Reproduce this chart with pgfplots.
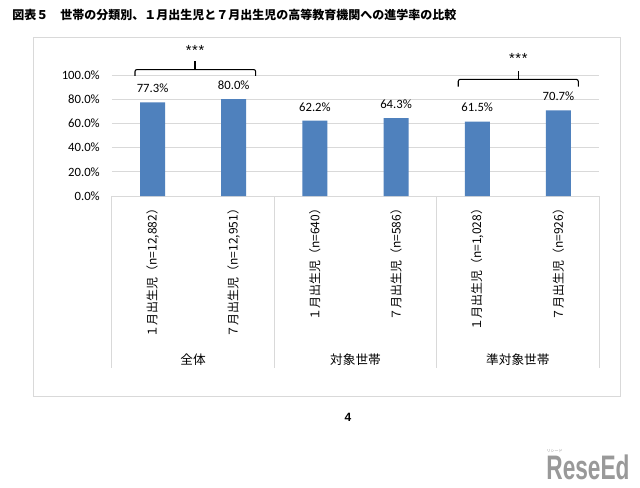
\documentclass[border=0pt]{standalone}
\usepackage{pgfplots}
\pgfplotsset{compat=1.18}
\usepackage{fontspec}
\setmainfont{Carlito}
\newfontfamily\jp{Noto Sans CJK JP}
\newfontfamily\arial{Liberation Sans}
\definecolor{barblue}{HTML}{4F81BD}
\definecolor{gridgray}{HTML}{D9D9D9}
\begin{document}
\begin{tikzpicture}[x=1pt,y=1pt]
\useasboundingbox (0,0) rectangle (480,365.25);
\fill[white] (0,0) rectangle (480,365.25);
\draw[gridgray, line width=0.75pt] (24.75,68.25) rectangle (465,337.5);
\node[anchor=west, inner sep=0pt, font=\jp\bfseries\fontsize{9}{10}\selectfont] at (9,354) {図表５　世帯の分類別、１月出生児と７月出生児の高等教育機関への進学率の比較};
\begin{axis}[
  at={(84pt,218.25pt)}, anchor=south west,
  scale only axis, width=365.25pt, height=90.75pt,
  xmin=-0.5, xmax=5.5, ymin=0, ymax=100,
  clip=false,
  axis line style={draw=none},
  ybar, bar width=18.75pt,
  xtick={0,1,2,3,4,5},
  xticklabels={{１月出生児（n=12,882）},{７月出生児（n=12,951）},{１月出生児（n=640）},{７月出生児（n=586）},{１月出生児（n=1,028）},{７月出生児（n=926）}},
  xticklabel style={rotate=90, anchor=east, inner sep=0pt, font=\jp\fontsize{9}{10}\selectfont},
  xticklabel shift=5pt,
  ytick={0,20,40,60,80,100},
  yticklabel={\pgfmathprintnumber[fixed,fixed zerofill,precision=1]{\tick}\%},
  yticklabel style={inner xsep=0pt, xshift=-9pt, font=\fontsize{9.5}{11}\selectfont},
  /pgf/number format/assume math mode=true,
  ymajorgrids, grid style={gridgray, line width=0.75pt},
  major tick length=0pt,
  nodes near coords={\pgfmathprintnumber[fixed,fixed zerofill,precision=1]{\pgfplotspointmeta}\%},
  nodes near coords style={anchor=south, inner sep=0pt, yshift=7pt, font=\fontsize{9.5}{11}\selectfont, text=black},
]
\addplot[fill=barblue, draw=none] coordinates {(0,77.3) (1,80.0) (2,62.2) (3,64.3) (4,61.5) (5,70.7)};
% category separators
\draw[gridgray, line width=0.75pt] (axis cs:-0.5,0) -- (axis cs:-0.5,-142.1);
\draw[gridgray, line width=0.75pt] (axis cs:1.5,0) -- (axis cs:1.5,-142.1);
\draw[gridgray, line width=0.75pt] (axis cs:3.5,0) -- (axis cs:3.5,-142.1);
\draw[gridgray, line width=0.75pt] (axis cs:5.5,0) -- (axis cs:5.5,-142.1);
\node[font=\jp\fontsize{9.5}{11}\selectfont] at (axis cs:0.5,-135.5) {全体};
\node[font=\jp\fontsize{9.5}{11}\selectfont] at (axis cs:2.5,-135.5) {対象世帯};
\node[font=\jp\fontsize{9.5}{11}\selectfont] at (axis cs:4.5,-135.5) {準対象世帯};
% significance brackets
\draw[line width=0.8pt, rounded corners=1.5pt] (axis cs:-0.217,99.2) -- (axis cs:-0.217,104.5) -- (axis cs:1.27,104.5) -- (axis cs:1.27,99.2);
\draw[line width=0.8pt] (axis cs:0.523,104.5) -- (axis cs:0.523,111.6);
\node[font=\arial\fontsize{11}{12}\selectfont, inner sep=0pt] at (axis cs:0.523,120) {*\kern0.5pt*\kern0.5pt*};
\draw[line width=0.8pt, rounded corners=1.5pt] (axis cs:3.766,90.3) -- (axis cs:3.766,96.4) -- (axis cs:5.245,96.4) -- (axis cs:5.245,90.3);
\draw[line width=0.8pt] (axis cs:4.506,96.4) -- (axis cs:4.506,103.6);
\node[font=\arial\fontsize{11}{12}\selectfont, inner sep=0pt] at (axis cs:4.506,113.4) {*\kern0.5pt*\kern0.5pt*};
\end{axis}
\node[font=\arial\bfseries\fontsize{9}{10}\selectfont] at (261,52.5) {4};
\node[text=black!40, font=\arial\bfseries\fontsize{17}{17}\selectfont, yscale=1.5] at (441,15) {ReseEd};
\node[text=black!40, font=\jp\fontsize{3}{3}\selectfont] at (416,27) {リシード};
\end{tikzpicture}
\end{document}
